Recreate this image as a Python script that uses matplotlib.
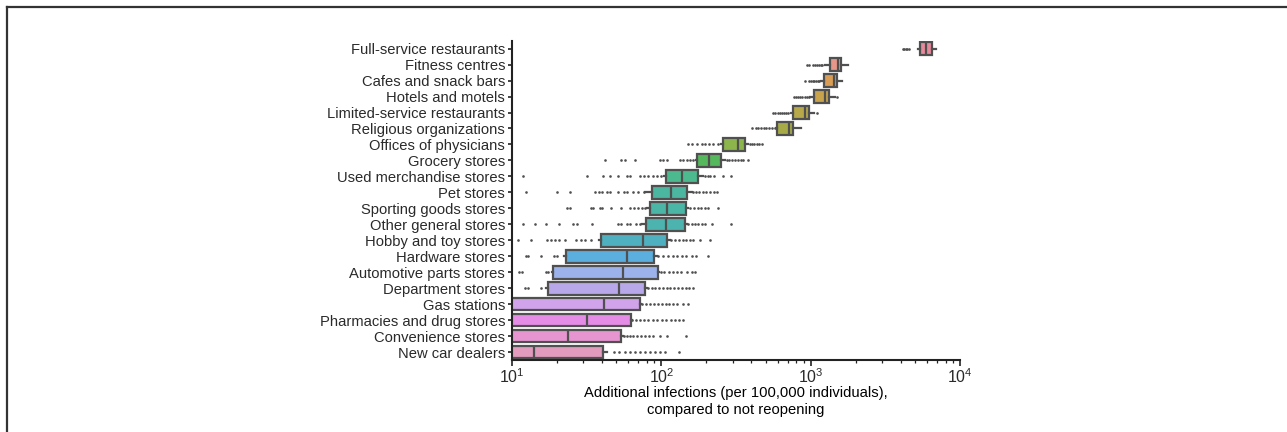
import matplotlib
matplotlib.use('Agg')
import matplotlib.pyplot as plt
from matplotlib.lines import Line2D

plt.rcParams.update({
    'font.family': ['Liberation Sans', 'DejaVu Sans'],
    'font.size': 10.6,
    'mathtext.default': 'regular',
    'text.color': '#2a2a2a',
    'axes.edgecolor': '#222222',
    'xtick.color': '#222222',
    'ytick.color': '#222222',
    'xtick.labelcolor': '#2a2a2a',
    'ytick.labelcolor': '#2a2a2a',
})

# categories, top to bottom
categories = [
    'Full-service restaurants', 'Fitness centres', 'Cafes and snack bars',
    'Hotels and motels', 'Limited-service restaurants', 'Religious organizations',
    'Offices of physicians', 'Grocery stores', 'Used merchandise stores',
    'Pet stores', 'Sporting goods stores', 'Other general stores',
    'Hobby and toy stores', 'Hardware stores', 'Automotive parts stores',
    'Department stores', 'Gas stations', 'Pharmacies and drug stores',
    'Convenience stores', 'New car dealers',
]

# box statistics (additional infections per 100,000)
q1 = [5395, 1346, 1236, 1047, 766, 598, 260, 174, 107, 87,
      84, 79, 39.6, 23.0, 18.9, 17.3, 7, 6, 5, 4]
medians = [5916, 1531, 1433, 1247, 916, 719, 325, 209, 137, 117,
           110, 107, 75, 58.6, 55, 52.4, 41.5, 31.8, 23.9, 14.0]
q3 = [6457, 1596, 1511, 1333, 979, 766, 365, 252, 175, 149,
      146, 143, 109, 89.7, 95, 77.8, 72, 62.4, 53.5, 40.6]
whis_lo = [5200, 1240, 1165, 990, 735, 585, 250, 170, 104, 78,
           80, 74, 38, 22.3, 18.5, 17, 3, 3, 2, 2]
whis_hi = [6870, 1771, 1630, 1455, 1052, 857, 382, 267, 191, 160,
           152, 148, 114, 93, 97, 80, 73, 63.5, 55, 43]
outliers = [
    [4150, 4250, 4350, 4450, 4550],
    [940, 979, 1030, 1065, 1100, 1135, 1170, 1197],
    [916, 975, 1000, 1030, 1060, 1090, 1120, 1143],
    [778, 800, 825, 850, 880, 910, 940, 970, 1493],
    [562, 580, 600, 620, 640, 660, 685, 710, 1102],
    [406, 428, 445, 465, 485, 505, 530, 555, 577],
    [152, 160, 173, 186, 196, 209, 223, 241, 392, 405, 420, 435, 450, 474],
    [42, 54, 57, 67, 98, 102, 109, 133, 140, 148, 156, 164,
     274, 285, 298, 312, 326, 340, 354, 380],
    [11.8, 32, 41, 45, 51, 59, 62, 72, 77, 82, 88, 94, 100,
     196, 204, 212, 227, 260, 291],
    [12.4, 19.9, 24.4, 36, 38, 40, 43, 45, 51, 56, 59, 65, 70, 76,
     164, 172, 180, 190, 200, 212, 224, 235],
    [23.5, 24.5, 34, 35, 39, 40, 46, 54, 62, 66, 70, 74, 78,
     156, 165, 175, 185, 196, 207, 241],
    [11.9, 14.3, 16.9, 20.7, 25.8, 27.1, 34.5, 51.5, 54, 59, 62, 68, 72,
     152, 160, 168, 177, 186, 196, 217, 291],
    [11.0, 13.5, 17.1, 18.2, 19.4, 20.7, 22.6, 27, 29, 31, 34,
     117, 124, 131, 139, 147, 155, 164, 181, 212],
    [12.4, 12.9, 15.6, 19.1, 19.9, 95, 103, 111, 119, 128, 137, 147, 160, 171, 204],
    [11.2, 11.7, 16.9, 17.5, 99, 105, 112, 119, 127, 136, 148, 160, 169],
    [12.2, 12.9, 15.6, 81, 86, 91, 97, 103, 109, 114, 121, 129, 137, 146, 154, 162],
    [74, 79, 84, 89, 95, 101, 107, 113, 120, 127, 140, 152],
    [64, 68, 72, 77, 82, 88, 94, 101, 108, 116, 124, 132, 140],
    [56, 59, 62, 65, 69, 73, 78, 83, 88, 98, 110, 146],
    [48, 52, 57, 62, 67, 72, 78, 84, 91, 98, 106, 132],
]

box_colors = [
    '#e78a9c', '#e7968a', '#d99d55', '#c8a34c', '#b7a84a', '#a6ab48',
    '#8cb54c', '#55b85c', '#4db98e', '#4bb7a0', '#4bb5a6', '#4cb3ae',
    '#4fb1bf', '#5aafdf', '#9cb2ea', '#b8a8ea', '#d0a3ea', '#e58de6',
    '#e795d0', '#e29abd',
]

stats = []
for i in range(len(categories)):
    stats.append({
        'label': categories[i],
        'med': medians[i],
        'q1': q1[i],
        'q3': q3[i],
        'whislo': whis_lo[i],
        'whishi': whis_hi[i],
        'fliers': outliers[i],
    })

fig = plt.figure(figsize=(12.87, 4.32), dpi=100)
ax = fig.add_axes([0.3978, 0.1667, 0.3481, 0.7391])

edge = '#505050'
bp = ax.bxp(stats, positions=range(len(categories)), widths=0.8,
            orientation='horizontal', patch_artist=True, showcaps=False,
            boxprops=dict(edgecolor=edge, linewidth=1.6),
            medianprops=dict(color=edge, linewidth=1.6),
            whiskerprops=dict(color=edge, linewidth=1.6),
            flierprops=dict(marker='o', markersize=1.9, markerfacecolor=edge,
                            markeredgecolor='none', linestyle='none'))
for patch, c in zip(bp['boxes'], box_colors):
    patch.set_facecolor(c)

ax.set_xscale('log')
ax.set_xlim(10, 10000)
ax.set_ylim(len(categories) - 0.5, -0.5)
ax.set_yticks(range(len(categories)))
ax.set_yticklabels(categories)

ax.spines['top'].set_visible(False)
ax.spines['right'].set_visible(False)
ax.spines['left'].set_linewidth(1.5)
ax.spines['bottom'].set_linewidth(1.5)
ax.tick_params(axis='y', length=3, width=1.2, pad=2, labelsize=10.6)
ax.tick_params(axis='x', which='major', length=4, width=1.2, pad=1.5, labelsize=11.5)
ax.tick_params(axis='x', which='minor', length=2.5, width=0.9)

ax.set_xlabel('Additional infections (per 100,000 individuals),\ncompared to not reopening',
              fontsize=10.6, labelpad=0)

# frame lines of the screenshot (top and left)
fig.add_artist(Line2D([6.5 / 1287, 6.5 / 1287], [0, 1 - 6.5 / 432],
                      transform=fig.transFigure, color='#333333', linewidth=1.6))
fig.add_artist(Line2D([6.5 / 1287, 1], [1 - 6.5 / 432, 1 - 6.5 / 432],
                      transform=fig.transFigure, color='#333333', linewidth=1.6))

fig.savefig('out.png', dpi=100)
